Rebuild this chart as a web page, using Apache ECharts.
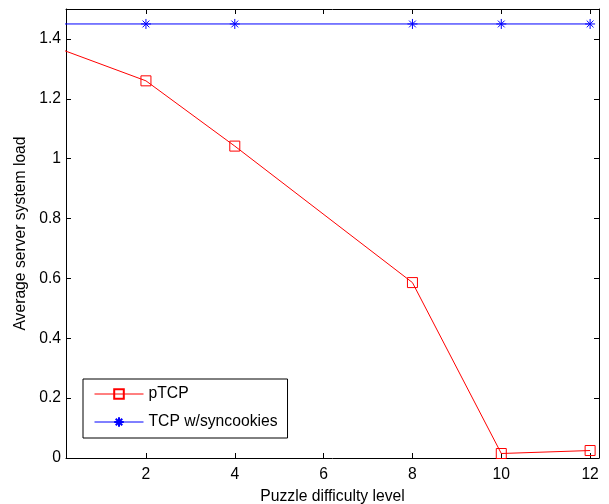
<!DOCTYPE html>
<html>
<head>
<meta charset="utf-8">
<script src="https://cdn.jsdelivr.net/npm/echarts@6/dist/echarts.min.js"></script>
<style>html,body{margin:0;padding:0;background:#fff;}#c{width:609px;height:504px;}</style>
</head>
<body>
<div id="c"></div>
<script>
const xLevels = [0, 2, 4, 8, 10, 12];
const ptcpLoad = [1.37, 1.26, 1.042, 0.586, 0.015, 0.025];
const tcpSynLoad = [1.45, 1.45, 1.45, 1.45, 1.45, 1.45];
const xTicks = [2, 4, 6, 8, 10, 12];
const yTicks = [0, 0.2, 0.4, 0.6, 0.8, 1, 1.2, 1.4];
const seriesNames = ['pTCP', 'TCP w/syncookies'];

const font = 'Liberation Sans, Arial, sans-serif';
const fs = 15.7;
const chart = echarts.init(document.getElementById('c'), null, {renderer: 'canvas'});
const star = 'path://M5,0 L5,10 M0,5 L10,5 M1.6,1.6 L8.4,8.4 M1.6,8.4 L8.4,1.6';
const pair = (xs, ys) => xs.map((x, i) => [x, ys[i]]);

const axisBase = {
  type: 'value', min: 0, max: 1,
  axisLine: {show: true, onZero: false, lineStyle: {color: '#000', width: 1}},
  splitLine: {show: false}
};

chart.setOption({
  animation: false,
  backgroundColor: '#fff',
  grid: {left: 66, top: 9, right: 10, bottom: 46, containLabel: false, outerBoundsMode: 'none'},
  xAxis: [
    Object.assign({}, axisBase, {
      min: 0.2, max: 12.2, position: 'bottom',
      name: 'Puzzle difficulty level', nameLocation: 'middle', nameGap: 31,
      nameTextStyle: {fontFamily: font, fontSize: fs, color: '#000'},
      axisTick: {show: true, inside: true, length: 5, customValues: xTicks, lineStyle: {color: '#000'}},
      axisLabel: {show: true, customValues: xTicks, margin: 9, fontFamily: font, fontSize: fs, color: '#000'}
    }),
    Object.assign({}, axisBase, {
      min: 0.2, max: 12.2, position: 'top',
      axisTick: {show: true, inside: true, length: 5, customValues: xTicks, lineStyle: {color: '#000'}},
      axisLabel: {show: false}
    })
  ],
  yAxis: [
    Object.assign({}, axisBase, {
      min: 0, max: 1.5, position: 'left',
      name: 'Average server system load', nameLocation: 'middle', nameGap: 35, nameRotate: 90,
      nameTextStyle: {fontFamily: font, fontSize: fs, color: '#000'},
      axisTick: {show: true, inside: true, length: 5, customValues: yTicks, lineStyle: {color: '#000'}},
      axisLabel: {show: true, customValues: yTicks, margin: 5, fontFamily: font, fontSize: fs, color: '#000'}
    }),
    Object.assign({}, axisBase, {
      min: 0, max: 1.5, position: 'right',
      axisTick: {show: true, inside: true, length: 5, customValues: yTicks, lineStyle: {color: '#000'}},
      axisLabel: {show: false}
    })
  ],
  legend: {
    show: true, orient: 'vertical', left: 83, top: 379,
    padding: [7, 10, 8, 11], itemGap: 12,
    itemWidth: 49, itemHeight: 12,
    borderColor: '#000', borderWidth: 1, borderRadius: 0, backgroundColor: '#fff',
    lineStyle: {width: 1},
    textStyle: {fontFamily: font, fontSize: fs, color: '#000'},
    data: seriesNames
  },
  series: [
    {
      name: seriesNames[0], type: 'line', xAxisIndex: 0, yAxisIndex: 0,
      data: pair(xLevels, ptcpLoad), clip: true,
      symbol: 'rect', symbolSize: 10, showAllSymbol: true,
      color: '#ff0000',
      lineStyle: {color: '#ff0000', width: 1},
      itemStyle: {color: 'rgba(255,255,255,0)', borderColor: '#ff0000', borderWidth: 1}
    },
    {
      name: seriesNames[1], type: 'line', xAxisIndex: 0, yAxisIndex: 0,
      data: pair(xLevels, tcpSynLoad), clip: true,
      symbol: star, symbolSize: 10, showAllSymbol: true,
      color: '#0000ff',
      lineStyle: {color: '#0000ff', width: 1},
      itemStyle: {color: 'rgba(0,0,255,0)', borderColor: '#0000ff', borderWidth: 1}
    }
  ]
});
</script>
</body>
</html>
